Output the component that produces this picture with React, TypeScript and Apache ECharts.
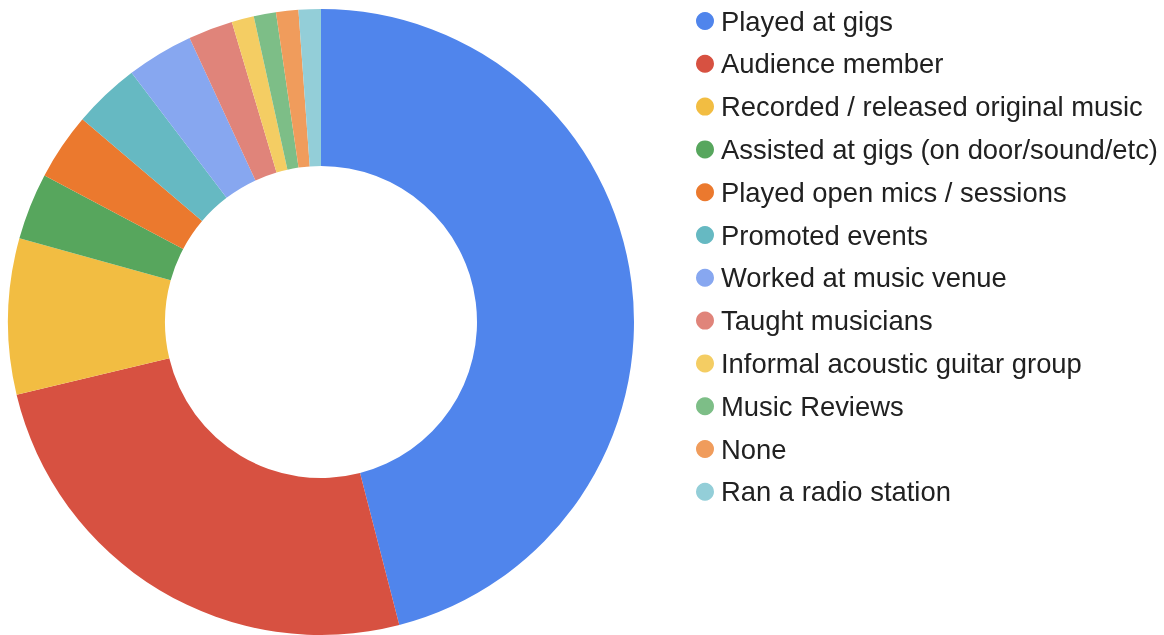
import React, { useEffect, useRef } from "react";
import * as echarts from "echarts";

const categories = [
  "Played at gigs",
  "Audience member",
  "Recorded / released original music",
  "Assisted at gigs (on door/sound/etc)",
  "Played open mics / sessions",
  "Promoted events",
  "Worked at music venue",
  "Taught musicians",
  "Informal acoustic guitar group",
  "Music Reviews",
  "None",
  "Ran a radio station",
];

const counts = [40, 22, 7, 3, 3, 3, 3, 2, 1, 1, 1, 1];

const colors = [
  "#5085EC",
  "#D75141",
  "#F2BD42",
  "#57A65D",
  "#EB792E",
  "#66B9C2",
  "#87A7F0",
  "#E0847A",
  "#F4CD63",
  "#7DBE87",
  "#F09C5C",
  "#93CED8",
];

export default function App() {
  const ref = useRef<HTMLDivElement>(null);
  useEffect(() => {
    if (!ref.current) return;
    const chart = echarts.init(ref.current, undefined, { renderer: "svg" });
    chart.setOption({
      animation: false,
      color: colors,
      legend: {
        orient: "vertical",
        left: 691,
        top: 1,
        icon: "circle",
        itemWidth: 18,
        itemHeight: 18,
        itemGap: 12.8,
        selectedMode: false,
        textStyle: {
          fontFamily: "Liberation Sans, Arial, sans-serif",
          fontSize: 27.4,
          lineHeight: 30,
          color: "#212121",
          padding: [0, 0, 0, 2],
        },
        data: categories,
      },
      series: [
        {
          type: "pie",
          center: [321, 322],
          radius: [156, 313],
          startAngle: 90,
          clockwise: true,
          label: { show: false },
          labelLine: { show: false },
          emphasis: { disabled: true },
          itemStyle: { borderWidth: 0 },
          data: categories.map((name, i) => ({ name, value: counts[i] })),
        },
      ],
    });
    return () => chart.dispose();
  }, []);
  return (
    <div
      ref={ref}
      style={{ position: "fixed", left: 0, top: 0, width: 1164, height: 635 }}
    />
  );
}
